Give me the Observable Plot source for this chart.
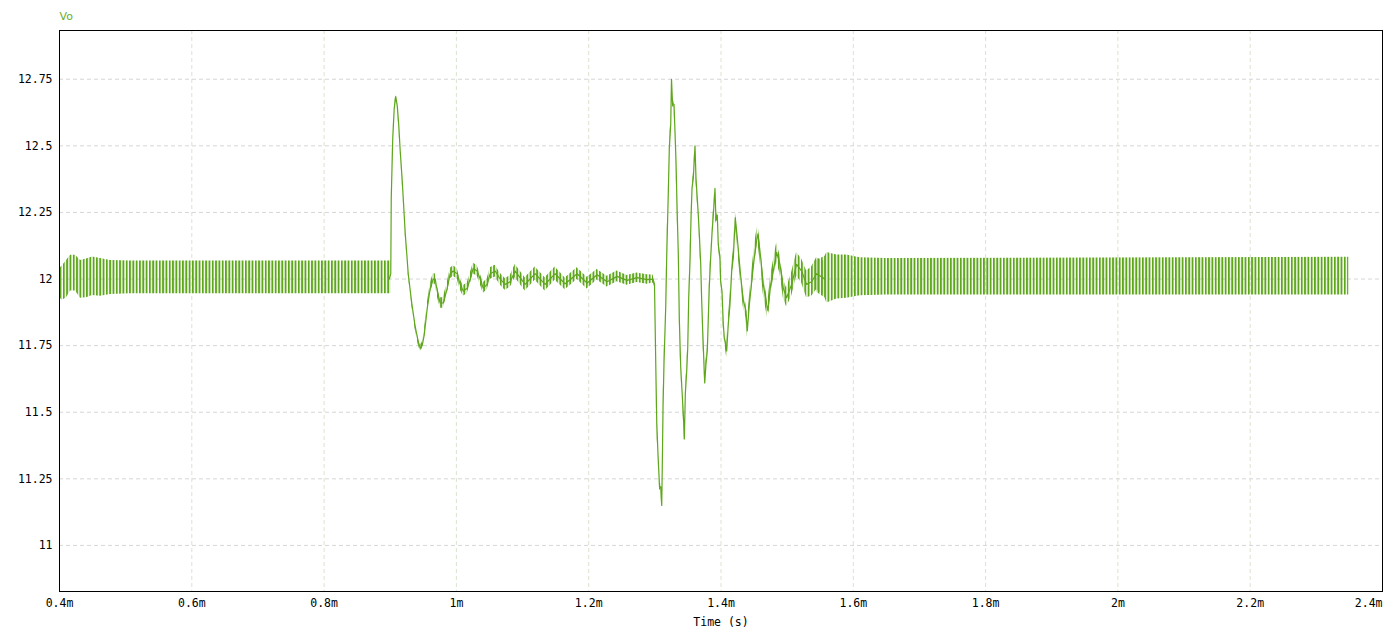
<!DOCTYPE html>
<html>
<head>
<meta charset="utf-8">
<script src="https://cdn.jsdelivr.net/npm/d3@7"></script>
<script src="https://cdn.jsdelivr.net/npm/@observablehq/plot@0.6"></script>
<style>
html, body { margin: 0; padding: 0; background: #fff; }
#chart svg { display: block; }
</style>
</head>
<body>
<div id="chart"></div>
<script>
// ---- labels / ticks ----
const seriesName = "Vo";
const xAxisLabel = "Time (s)";
const xTicks = [0.4, 0.6, 0.8, 1.0, 1.2, 1.4, 1.6, 1.8, 2.0, 2.2, 2.4]; // ms
const xTickLabels = ["0.4m", "0.6m", "0.8m", "1m", "1.2m", "1.4m", "1.6m", "1.8m", "2m", "2.2m", "2.4m"];
const yTicks = [11, 11.25, 11.5, 11.75, 12, 12.25, 12.5, 12.75];
const yTickLabels = ["11", "11.25", "11.5", "11.75", "12", "12.25", "12.5", "12.75"];

// ---- steady-state ripple envelope before the load step (time in ms, volts) ----
const bandAT  = [0.4, 0.4045, 0.4106, 0.4166, 0.4242, 0.4317, 0.4408, 0.4498, 0.4619, 0.4770, 0.5073, 0.9008];
const bandALo = [11.93, 11.92, 11.93, 11.955, 11.955, 11.928, 11.93, 11.938, 11.935, 11.942, 11.945, 11.945];
const bandAHi = [12.04, 12.05, 12.07, 12.089, 12.089, 12.07, 12.075, 12.083, 12.077, 12.07, 12.068, 12.068];

// ---- steady-state ripple envelope after the second transient ----
const bandBT  = [1.5445, 1.5571, 1.5600, 1.5750, 1.5900, 1.6100, 1.6500, 2.3490];
const bandBLo = [11.95, 11.93, 11.91, 11.925, 11.928, 11.937, 11.94, 11.94];
const bandBHi = [12.07, 12.085, 12.10, 12.09, 12.09, 12.08, 12.077, 12.082];

// ---- transient trace (time ms, volts, ripple half-amplitude) ----
const transT = [
  0.8985,0.9008,0.9015,0.9038,0.9060,0.9083,0.9106,0.9128,0.9151,0.9181,
  0.9227,0.9272,0.9325,0.9378,0.9423,0.9453,0.9483,0.9514,0.9559,0.9604,
  0.9650,0.9680,0.9710,0.9755,0.9801,0.9861,0.9906,0.9952,1.0012,1.0057,
  1.0103,1.0163,1.0208,1.0254,1.0314,1.0360,1.0405,1.0465,1.0511,1.0586,
  1.0662,1.0737,1.0813,1.0888,1.1039,1.1190,1.1341,1.1492,1.1644,1.1825,
  1.1976,1.2127,1.2278,1.2429,1.2580,1.2731,1.2882,1.2973,1.2995,1.3003,
  1.3018,1.3029,1.3048,1.3071,1.3089,1.3104,1.3112,1.3124,1.3139,1.3165,
  1.3180,1.3204,1.3219,1.3240,1.3252,1.3267,1.3290,1.3305,1.3320,1.3335,
  1.3355,1.3370,1.3391,1.3411,1.3431,1.3446,1.3461,1.3482,1.3497,1.3512,
  1.3532,1.3547,1.3562,1.3582,1.3607,1.3622,1.3642,1.3657,1.3672,1.3693,
  1.3708,1.3723,1.3743,1.3754,1.3773,1.3793,1.3808,1.3823,1.3844,1.3864,
  1.3884,1.3909,1.3924,1.3944,1.3959,1.3985,1.3995,1.4015,1.4035,1.4050,
  1.4086,1.4110,1.4136,1.4162,1.4186,1.4216,1.4246,1.4272,1.4302,1.4337,
  1.4378,1.4397,1.4427,1.4464,1.4498,1.4529,1.4559,1.4600,1.4639,1.4680,
  1.4710,1.4751,1.4790,1.4841,1.4891,1.4941,1.4992,1.5068,1.5143,1.5219,
  1.5294,1.5370,1.5445,1.5571
];
const transV = [
  12.00,12.02,12.30,12.53,12.64,12.685,12.65,12.58,12.48,12.37,
  12.17,12.02,11.91,11.82,11.765,11.74,11.75,11.79,11.89,11.965,
  12.00,12.00,11.955,11.91,11.91,11.965,12.02,12.03,12.02,11.98,
  11.955,11.965,12.00,12.04,12.03,12.00,11.966,11.98,12.02,12.03,
  12.00,11.98,11.99,12.03,11.98,12.02,11.98,12.02,11.982,12.02,
  11.985,12.016,11.99,12.01,11.995,12.005,11.998,12.00,11.98,11.85,
  11.62,11.46,11.34,11.22,11.22,11.15,11.29,11.52,11.69,11.90,
  12.09,12.33,12.49,12.58,12.75,12.66,12.655,12.55,12.44,12.28,
  12.09,11.85,11.67,11.58,11.49,11.40,11.57,11.655,11.74,11.93,
  12.07,12.23,12.34,12.38,12.50,12.38,12.30,12.24,12.17,12.06,
  11.92,11.81,11.68,11.61,11.68,11.73,11.85,11.97,12.08,12.17,
  12.24,12.34,12.22,12.24,12.13,12.08,11.99,11.955,11.83,11.78,
  11.73,11.83,11.905,12.03,12.08,12.23,12.155,12.08,12.00,11.92,
  11.88,11.805,11.90,11.99,12.07,12.13,12.17,12.08,11.98,11.92,
  11.88,11.98,12.03,12.10,12.055,11.966,11.93,11.98,12.055,12.03,
  11.98,11.99,12.02,12.00
];
const transHw = [
  0,0,0.005,0.005,0.005,0.005,0.005,0.005,0.005,0.005,
  0.005,0.005,0.008,0.01,0.012,0.012,0.012,0.012,0.015,0.018,
  0.02,0.02,0.02,0.02,0.02,0.02,0.02,0.02,0.02,0.02,
  0.02,0.02,0.02,0.02,0.02,0.02,0.02,0.02,0.022,0.022,
  0.022,0.022,0.022,0.025,0.025,0.025,0.025,0.025,0.022,0.022,
  0.022,0.02,0.02,0.02,0.018,0.018,0.018,0.015,0.008,0.008,
  0.012,0.012,0.012,0.012,0.012,0.012,0.012,0.012,0.012,0.012,
  0.012,0.012,0.012,0.012,0.012,0.012,0.012,0.012,0.012,0.012,
  0.012,0.012,0.012,0.012,0.012,0.012,0.012,0.012,0.012,0.012,
  0.012,0.012,0.012,0.012,0.012,0.012,0.012,0.012,0.012,0.012,
  0.012,0.012,0.012,0.012,0.012,0.012,0.012,0.012,0.012,0.012,
  0.012,0.012,0.012,0.012,0.012,0.012,0.012,0.012,0.012,0.012,
  0.025,0.025,0.025,0.025,0.025,0.025,0.025,0.025,0.025,0.025,
  0.025,0.025,0.025,0.035,0.035,0.035,0.035,0.035,0.035,0.035,
  0.035,0.035,0.035,0.035,0.035,0.035,0.035,0.045,0.045,0.045,
  0.05,0.055,0.06,0.065
];

// ---- build tables for Plot ----
const GREEN = "#5ea61b";
const bandA = bandAT.map((t, i) => ({ t, lo: bandALo[i], hi: bandAHi[i] }));
const bandB = bandBT.map((t, i) => ({ t, lo: bandBLo[i], hi: bandBHi[i] }));
const trans = transT.map((t, i) => ({ t, v: transV[i], lo: transV[i] - transHw[i], hi: transV[i] + transHw[i] }));
const xLab = xTicks.map((x, i) => ({ x, label: xTickLabels[i] }));
const yLab = yTicks.map((y, i) => ({ y, label: yTickLabels[i] }));
const mono = "'DejaVu Sans Mono', monospace";

const svg = Plot.plot({
  width: 1387,
  height: 632,
  marginLeft: 59,
  marginRight: 5,
  marginTop: 30,
  marginBottom: 41,
  style: { background: "#fff", overflow: "visible" },
  x: { domain: [0.4, 2.4], axis: null },
  y: { domain: [10.827, 12.933], axis: null },
  marks: [
    Plot.ruleX(xTicks, { stroke: "#dbe3cf", strokeDasharray: "4,3", strokeWidth: 1 }),
    Plot.ruleY(yTicks, { stroke: "#d6d6d6", strokeDasharray: "4,3", strokeWidth: 1 }),
    Plot.areaY(bandA, { x: "t", y1: "lo", y2: "hi", fill: "url(#ripple)" }),
    Plot.areaY(bandB, { x: "t", y1: "lo", y2: "hi", fill: "url(#ripple)" }),
    Plot.areaY(trans, { x: "t", y1: "lo", y2: "hi", fill: "url(#ripple)" }),
    Plot.line(trans, { x: "t", y: "v", stroke: GREEN, strokeWidth: 1.2 }),
    Plot.frame({ stroke: "#000", strokeWidth: 1 }),
    Plot.text(xLab.slice(0, -1), { x: "x", text: "label", frameAnchor: "bottom", dy: 12, lineAnchor: "middle", fontFamily: mono, fontSize: 11.5, fill: "#000" }),
    Plot.text(xLab.slice(-1), { x: "x", text: "label", frameAnchor: "bottom", dy: 12, lineAnchor: "middle", textAnchor: "end", fontFamily: mono, fontSize: 11.5, fill: "#000" }),
    Plot.text(yLab, { y: "y", text: "label", frameAnchor: "left", dx: -7, textAnchor: "end", fontFamily: mono, fontSize: 11.5, fill: "#000" }),
    Plot.text([xAxisLabel], { text: d => d, frameAnchor: "bottom", dy: 31, lineAnchor: "middle", fontFamily: mono, fontSize: 11.5, fill: "#000" }),
    Plot.text([seriesName], { text: d => d, frameAnchor: "top-left", dy: -14, lineAnchor: "middle", textAnchor: "start", fontFamily: "'DejaVu Sans', sans-serif", fontSize: 11, fill: "#6aae2a" })
  ]
});

// ripple texture: vertical strokes at the switching period
const ns = "http://www.w3.org/2000/svg";
const defs = document.createElementNS(ns, "defs");
const pat = document.createElementNS(ns, "pattern");
pat.setAttribute("id", "ripple");
pat.setAttribute("patternUnits", "userSpaceOnUse");
pat.setAttribute("width", "3.31");
pat.setAttribute("height", "10");
const r = document.createElementNS(ns, "rect");
r.setAttribute("x", "0");
r.setAttribute("y", "0");
r.setAttribute("width", "1.9");
r.setAttribute("height", "10");
r.setAttribute("fill", GREEN);
pat.appendChild(r);
defs.appendChild(pat);
svg.insertBefore(defs, svg.firstChild);

document.getElementById("chart").appendChild(svg);
</script>
</body>
</html>
